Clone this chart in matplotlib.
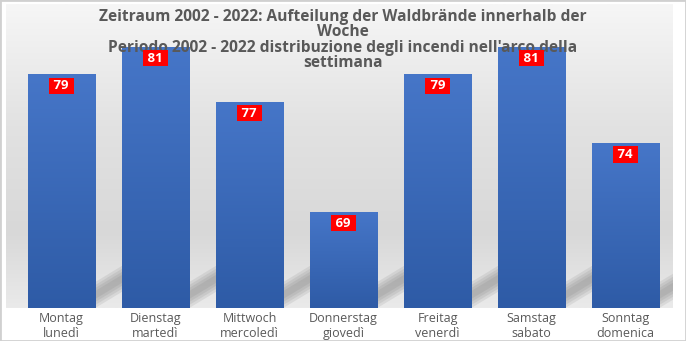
import numpy as np
import matplotlib.pyplot as plt
from matplotlib.colors import LinearSegmentedColormap
from matplotlib.patches import Polygon, Rectangle

# data
days_de = ["Montag", "Dienstag", "Mittwoch", "Donnerstag", "Freitag", "Samstag", "Sonntag"]
days_it = ["lunedì", "martedì", "mercoledì", "giovedì", "venerdì", "sabato", "domenica"]
fires = [79, 81, 77, 69, 79, 81, 74]
title_lines = [
    "Zeitraum 2002 - 2022: Aufteilung der Waldbrände innerhalb der",
    "Woche",
    "Periodo 2002 - 2022 distribuzione degli incendi nell'arco della",
    "settimana",
]

W, H = 686, 341
ymin, ymax = 62, 84.11
xmin, xmax = -0.59, 6.505
bar_w = 0.713
grey = "#595959"

plt.rcParams['font.family'] = ['Open Sans', 'DejaVu Sans']

fig = plt.figure(figsize=(W / 100, H / 100), dpi=100)
fig.patch.set_facecolor("white")
ax = fig.add_axes([6 / W, 33 / H, 667 / W, 304 / H])

# plot area background gradient
bg = LinearSegmentedColormap.from_list(
    "bg", [(0, "#eaeaea"), (0.25, "#d8d8d8"), (0.6, "#e2e2e2"), (1, "#f6f6f6")])
ax.imshow(np.linspace(0, 1, 256).reshape(-1, 1), cmap=bg, origin="lower",
          extent=(0, 1, 0, 1), transform=ax.transAxes, aspect="auto", zorder=0)

# px -> data helpers
xu = 667 / (xmax - xmin)
yu = 304 / (ymax - ymin)

# perspective shadows behind the bars
for i in range(len(fires)):
    xr = i + bar_w / 2
    y0 = ymin + 10 / yu
    y1 = ymin + 40 / yu
    L = 45 / xu
    for t in [26, 20, 14, 8]:
        th = t / yu / 2
        poly = Polygon([(xr - 0.05, y0 - th), (xr + L, y1 - th),
                        (xr + L, y1 + th), (xr - 0.05, y0 + th)],
                       closed=True, fc="#6e6e6e", ec="none", alpha=0.13, zorder=1)
        ax.add_patch(poly)

# bars with vertical gradient
bars = ax.bar(range(len(fires)), [v - ymin for v in fires], bottom=ymin, width=bar_w,
              color="#3f6bbb", edgecolor="#7f9fd8", linewidth=0.6, zorder=3)
barmap = LinearSegmentedColormap.from_list("bar", ["#2e5ba6", "#4676c8"])
for b, v in zip(bars, fires):
    x0 = b.get_x()
    im = ax.imshow(np.linspace(0, 1, 256).reshape(-1, 1), cmap=barmap, origin="lower",
                   extent=(x0, x0 + bar_w, ymin, v), aspect="auto", zorder=3.5)
    im.set_clip_path(b)

# title (between bars and labels)
line_y = [17, 32, 48, 63]
for txt, y in zip(title_lines, line_y):
    ax.text(0.5, 1 - y / H, txt, transform=fig.transFigure, ha="center", va="center",
            fontsize=11.2, fontweight="bold", color=grey, zorder=5, clip_on=False)

# value labels
for i, v in enumerate(fires):
    ax.annotate(f" {v} ", (i, v), xytext=(0, -11.5), textcoords="offset pixels",
                ha="center", va="center", color="white", fontsize=9.5, fontweight="bold",
                bbox=dict(boxstyle="square,pad=0.12", fc="#ff0000", ec="none"), zorder=6)

ax.set_xlim(xmin, xmax)
ax.set_ylim(ymin, ymax)
ax.set_xticks(range(len(fires)), [f"{d}\n{t}" for d, t in zip(days_de, days_it)])
ax.tick_params(axis="x", length=0, pad=3, labelcolor=grey, labelsize=9)
ax.set_yticks([])
for s in ax.spines.values():
    s.set_visible(False)

fig.patches.append(Rectangle((0, 0), 1, 1, transform=fig.transFigure, fill=False,
                             ec="#d0d0d0", lw=2))

fig.savefig("out.png", dpi=100)
